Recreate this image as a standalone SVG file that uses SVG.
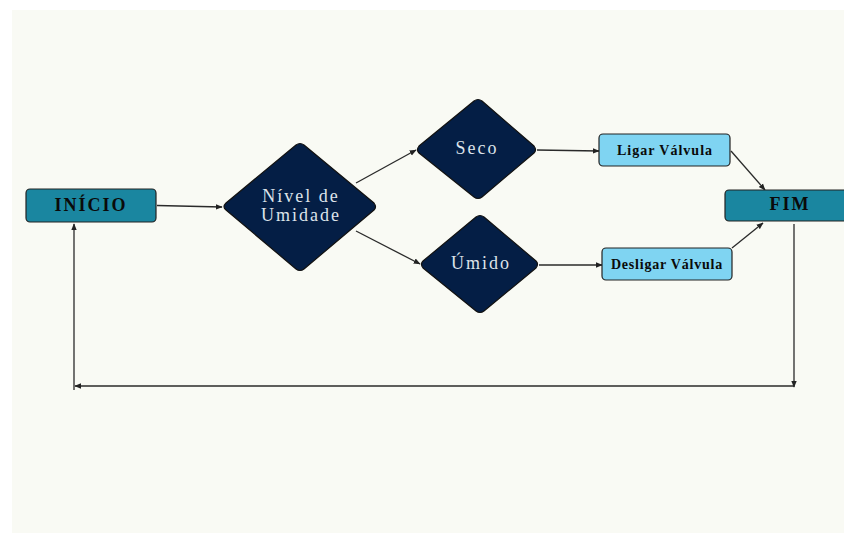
<svg xmlns="http://www.w3.org/2000/svg" width="844" height="533" viewBox="0 0 844 533">
<defs>
<marker id="arr" viewBox="0 0 10 10" refX="9" refY="5" markerWidth="7" markerHeight="7" markerUnits="userSpaceOnUse" orient="auto">
<path d="M0,1 L10,5 L0,9 Z" fill="#222"/>
</marker>
<style>
.conn{stroke:#2a2a2a;stroke-width:1.3;fill:none;marker-end:url(#arr)}
.box{stroke:#222;stroke-width:1.2}
.teal{fill:#1a86a0}
.light{fill:#7fd4f2}
.dia{fill:#041e45;stroke:#111;stroke-width:1.2;stroke-linejoin:round}
.bt{font-family:"Liberation Serif",serif;font-weight:bold;fill:#0a0a0a;text-anchor:middle}
.dt{font-family:"Liberation Serif",serif;fill:#dde3ea;text-anchor:middle;font-size:18px;letter-spacing:2px}
</style>
</defs>
<rect x="0" y="0" width="844" height="533" fill="#ffffff"/>
<rect x="12" y="10" width="832" height="523" fill="#f9faf4"/>
<g id="connectors">
<line class="conn" x1="157" y1="205.5" x2="222" y2="207"/>
<line class="conn" x1="356" y1="183" x2="416" y2="150"/>
<line class="conn" x1="356" y1="231" x2="420" y2="264"/>
<line class="conn" x1="537" y1="150" x2="599" y2="151"/>
<line class="conn" x1="539" y1="265" x2="602" y2="265"/>
<line class="conn" x1="731" y1="151" x2="765" y2="190"/>
<line class="conn" x1="732" y1="248" x2="763" y2="223"/>
<line class="conn" x1="794" y1="224" x2="794" y2="387"/>
<line class="conn" x1="794" y1="386" x2="75" y2="386"/>
<line class="conn" x1="74" y1="390" x2="74" y2="224"/>
</g>
<g id="inicio">
<rect class="box teal" x="26" y="189" width="130" height="33" rx="4"/>
<text class="bt" x="91" y="211" font-size="18" letter-spacing="2">INÍCIO</text>
</g>
<g id="nivel">
<path class="dia" d="M296,145 Q300,142 304,145 L374,203 Q377,207 374,210 L304,269 Q300,272 296,269 L226,210 Q222,207 226,203 Z"/>
<text class="dt" x="301" y="202">Nível de</text>
<text class="dt" x="301" y="221">Umidade</text>
</g>
<g id="seco">
<path class="dia" d="M474,101 Q478,98 482,101 L534,146 Q537,150 534,153 L482,197 Q478,200 474,197 L419,153 Q416,150 419,146 Z"/>
<text class="dt" x="477" y="154">Seco</text>
</g>
<g id="umido">
<path class="dia" d="M476,217 Q480,214 484,217 L536,261 Q539,264 536,268 L484,311 Q480,314 476,311 L423,268 Q420,264 423,261 Z"/>
<text class="dt" x="481" y="269">Úmido</text>
</g>
<g id="ligar">
<rect class="box light" x="599" y="134" width="131" height="32" rx="4"/>
<text class="bt" x="665" y="155" font-size="14" letter-spacing="1">Ligar Válvula</text>
</g>
<g id="desligar">
<rect class="box light" x="602" y="248" width="130" height="32" rx="4"/>
<text class="bt" x="667" y="269" font-size="14" letter-spacing="0.8">Desligar Válvula</text>
</g>
<g id="fim">
<rect class="box teal" x="725" y="190" width="125" height="31" rx="4"/>
<text class="bt" x="790" y="210" font-size="18" letter-spacing="2">FIM</text>
</g>
</svg>
